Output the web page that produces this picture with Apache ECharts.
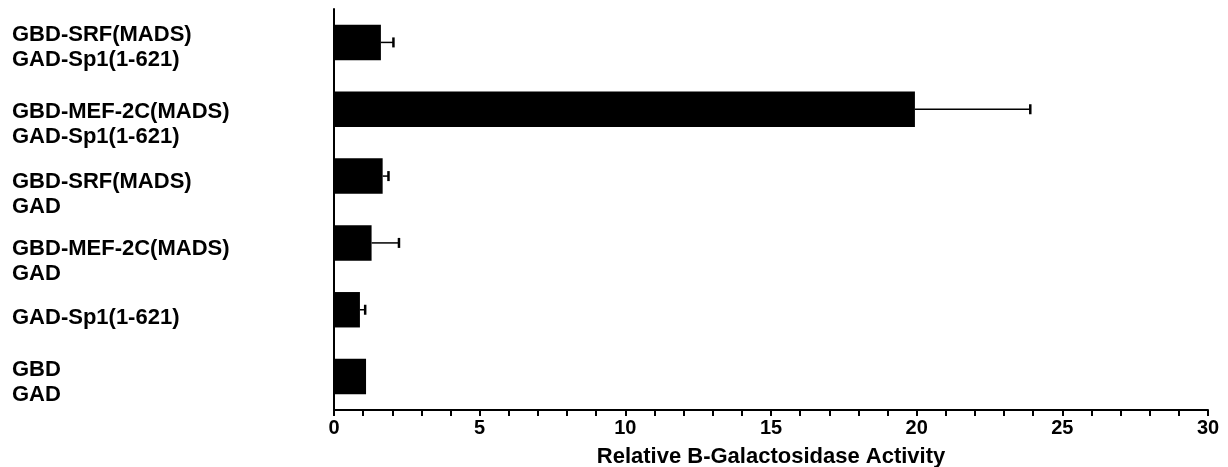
<!DOCTYPE html>
<html>
<head>
<meta charset="utf-8">
<script src="https://cdn.jsdelivr.net/npm/echarts@6/dist/echarts.min.js"></script>
<style>html,body{margin:0;padding:0;background:#fff}#c{width:1228px;height:467px}</style>
</head>
<body>
<div id="c"></div>
<script>
const categories = [
  "GBD-SRF(MADS)\nGAD-Sp1(1-621)",
  "GBD-MEF-2C(MADS)\nGAD-Sp1(1-621)",
  "GBD-SRF(MADS)\nGAD",
  "GBD-MEF-2C(MADS)\nGAD",
  "GAD-Sp1(1-621)",
  "GBD\nGAD"
];
const values = [1.61, 19.94, 1.67, 1.29, 0.89, 1.10];
const errors = [0.43, 3.96, 0.20, 0.94, 0.18, 0];
const xTicks = [0, 5, 10, 15, 20, 25, 30];
// per-label vertical shift (styling only)
const labelShift = [10, 30, 36, 38, 16, 11];

const FONT = "'Liberation Sans', Arial, Helvetica, sans-serif";
const chart = echarts.init(document.getElementById('c'));

const rich = {};
labelShift.forEach((s, i) => {
  rich['l' + i] = {fontFamily: FONT, fontWeight: 'bold', fontSize: 22, lineHeight: 25, color: '#000', align: 'left', padding: [s, 0, 0, 0]};
});

chart.setOption({
  animation: false,
  backgroundColor: '#fff',
  grid: {left: 334, right: 20, top: 9, bottom: 57, containLabel: false, outerBoundsMode: 'none'},
  xAxis: {
    type: 'value', min: 0, max: 30, interval: 5,
    name: 'Relative B-Galactosidase Activity',
    nameLocation: 'middle', nameGap: 36,
    nameTextStyle: {fontFamily: FONT, fontWeight: 'bold', fontSize: 22, color: '#000'},
    axisLine: {show: true, lineStyle: {color: '#000', width: 2}},
    axisTick: {show: true, length: 6, lineStyle: {color: '#000', width: 2}},
    minorTick: {show: true, splitNumber: 5, length: 6, lineStyle: {color: '#000', width: 2}},
    splitLine: {show: false},
    axisLabel: {
      fontFamily: FONT, fontWeight: 'bold', fontSize: 20, color: '#000', margin: 8,
      formatter: v => xTicks.indexOf(v) >= 0 ? String(v) : ''
    }
  },
  yAxis: {
    type: 'category', data: categories, inverse: true,
    axisLine: {show: true, lineStyle: {color: '#000', width: 2}},
    axisTick: {show: false},
    axisLabel: {
      interval: 0, hideOverlap: false,
      margin: 322, align: 'left',
      formatter: (v, i) => v.split('\n').map(s => '{l' + i + '|' + s + '}').join('\n'),
      rich: rich
    }
  },
  series: [
    {
      type: 'bar', data: values, barCategoryGap: '47%',
      itemStyle: {color: '#000'}
    },
    {
      type: 'custom',
      data: values.map((v, i) => [v, i, v + errors[i]]),
      encode: {x: [0, 2], y: 1},
      z: 3,
      renderItem: function (params, api) {
        const v = api.value(0), e = api.value(2), c = api.value(1);
        if (e <= v) return null;
        const p0 = api.coord([v, c]);
        const p1 = api.coord([e, c]);
        return {
          type: 'group',
          children: [
            {type: 'line', shape: {x1: p0[0], y1: p0[1], x2: p1[0], y2: p1[1]}, style: {stroke: '#000', lineWidth: 1.5}},
            {type: 'line', shape: {x1: p1[0], y1: p1[1] - 5, x2: p1[0], y2: p1[1] + 5}, style: {stroke: '#000', lineWidth: 2.5}}
          ]
        };
      }
    }
  ]
});
</script>
</body>
</html>
